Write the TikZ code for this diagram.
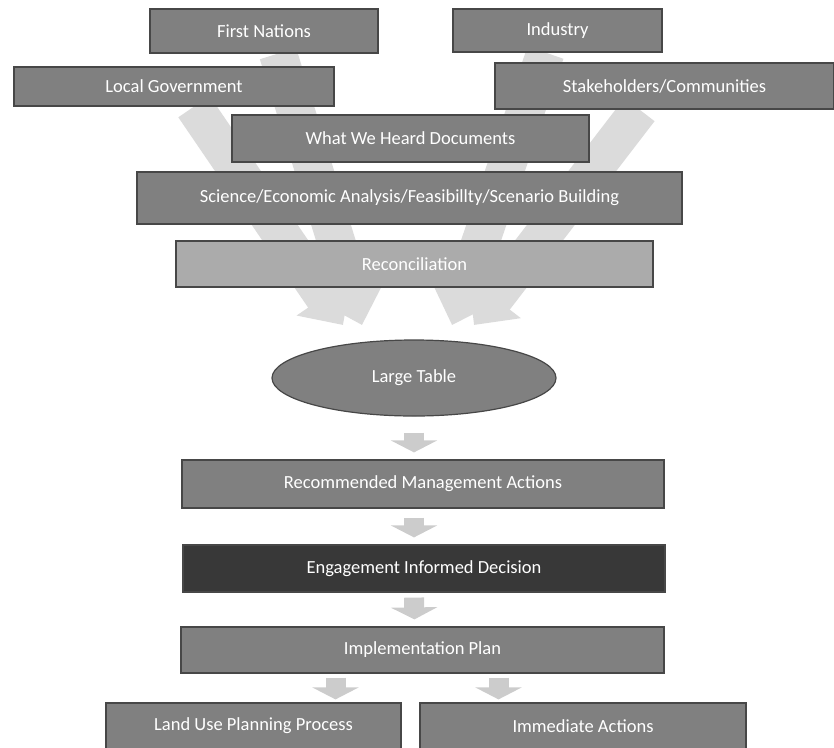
\documentclass[tikz,border=0pt]{standalone}
\usepackage{fontspec}
\setmainfont{Carlito}
\usepackage{tikz}
\usetikzlibrary{arrows.meta,shapes.geometric}
\pgfdeclarelayer{back}
\pgfsetlayers{back,main}

\tikzset{
  stage/.style={rectangle, draw=black!72, line width=1.2pt, fill=black!50,
    text=white, inner sep=0pt, font=\fontsize{18.5}{21}\selectfont},
  band/.style={draw=black!14, line width=38pt,
    -{Triangle[width=64pt,length=34pt]}},
  flowarrow/.style={draw=black!20, line width=20pt,
    -{Triangle[width=46pt,length=12pt]}}
}

\begin{document}
\begin{tikzpicture}[x=1pt,y=-1pt]
    \useasboundingbox (0,0) rectangle (834,747);
                      % input groups
    \node[stage, minimum width=228, minimum height=44] (fn) at (264,31) {First Nations};
    \node[stage, minimum width=209, minimum height=43] (ind) at (557.5,30.5) {Industry};
    \node[stage, minimum width=320, minimum height=39] (locgov) at (174,86.5) {Local Government};
    \node[stage, minimum width=339, minimum height=46] (stake) at (664.5,86) {Stakeholders/Communities};
                      % analysis stack
    \node[stage, minimum width=357, minimum height=47] (wwh) at (410.5,138.5) {What We Heard Documents};
    \node[stage, minimum width=545, minimum height=52] (sci) at (409.5,198) {Science/Economic Analysis/Feasibillty/Scenario Building};
    \node[stage, fill=black!33, minimum width=477, minimum height=46] (recon) at (414.5,264) {Reconciliation};
    \node[stage, ellipse, minimum width=284, minimum height=76] (table) at (414,378) {Large Table};
                      % decision chain
    \node[stage, minimum width=482, minimum height=48] (rec) at (423,484) {Recommended Management Actions};
    \node[stage, fill=black!78, minimum width=482, minimum height=47] (eng) at (424,568.5) {Engagement Informed Decision};
    \node[stage, minimum width=483, minimum height=46] (impl) at (422.5,650) {Implementation Plan};
    \node[stage, minimum width=295, minimum height=46] (land) at (253.5,726) {Land Use Planning Process};
    \node[stage, minimum width=326, minimum height=46] (immed) at (583,726) {Immediate Actions};

    \coordinate (tipA) at (343,325); % left pair
    \coordinate (tipB) at (362,325);
    \coordinate (tipC) at (452,325); % right pair
    \coordinate (tipD) at (474,325);

    \begin{pgfonlayer}{back}
    \draw[band] ([xshift=20pt]locgov.south) -- (tipA);
    \draw[band] ([xshift=14pt]fn.south) -- (tipB);
    \draw[band] ([xshift=-12pt]ind.south) -- (tipC);
    \draw[band] ([xshift=-25pt]stake.south) -- (tipD);
    \end{pgfonlayer}

    \draw[flowarrow, shorten <=16pt, shorten >=7pt] (table.south) -- (table.south |- rec.north);
    \draw[flowarrow, shorten <=9pt, shorten >=7pt] ([xshift=-9pt]rec.south) -- ([xshift=-10pt]eng.north);
    \draw[flowarrow, shorten <=5pt, shorten >=7pt] ([xshift=-10pt]eng.south) -- ([xshift=-8pt]impl.north);
    \draw[flowarrow, shorten <=4pt, shorten >=3pt] ([xshift=-87pt]impl.south) -- ([xshift=-87pt]impl.south |- land.north);
    \draw[flowarrow, shorten <=4pt, shorten >=3pt] ([xshift=76pt]impl.south) -- ([xshift=76pt]impl.south |- immed.north);
\end{tikzpicture}
\end{document}
